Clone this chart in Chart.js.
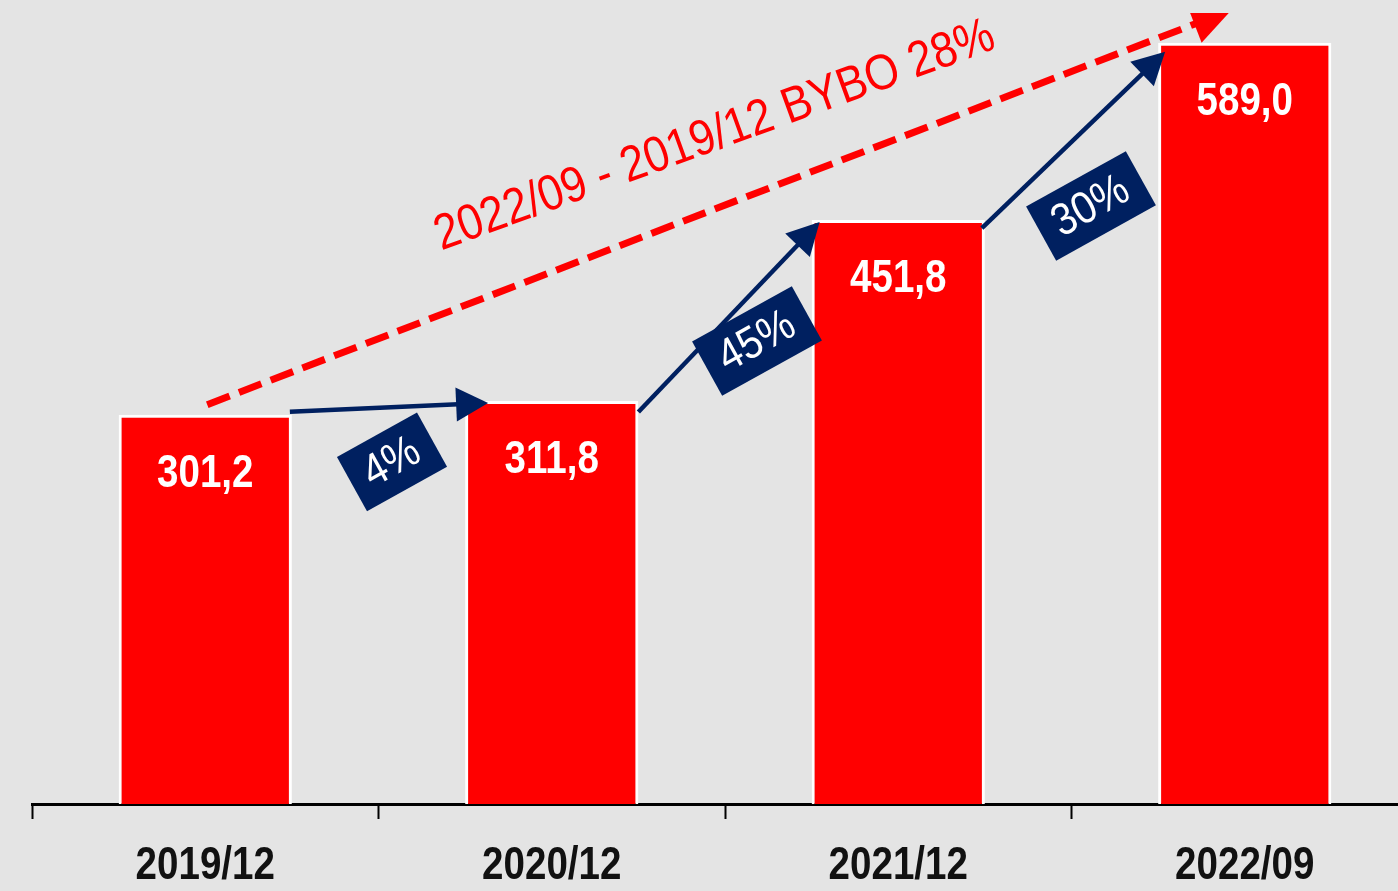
<!DOCTYPE html>
<html>
<head>
<meta charset="utf-8">
<script src="https://cdn.jsdelivr.net/npm/chart.js@4/dist/chart.umd.min.js"></script>
<style>
  html, body { margin: 0; padding: 0; background: #e4e4e4; overflow: hidden; width: 1398px; height: 891px; }
  #wrap { position: absolute; left: 0; top: 0; width: 1418px; height: 891px; }
</style>
</head>
<body>
<div id="wrap"><canvas id="c" width="1418" height="891"></canvas></div>
<script>
// Periods and totals
const periods = ['2019/12', '2020/12', '2021/12', '2022/09'];
const values = [301.2, 311.8, 451.8, 589.0];
const valueLabels = ['301,2', '311,8', '451,8', '589,0'];
// Period-over-period growth and overall growth captions
const growthLabels = ['4%', '45%', '30%'];
const overallLabel = '2022/09 - 2019/12 BYBO 28%';
const yMin = 0;
const yMax = 612;

const RED = '#ff0000';
const NAVY = '#002060';
const SANS = "'Liberation Sans', Arial, sans-serif";
const NARROW_X = 0.82; // horizontal squeeze giving a narrow face

// text drawn with a horizontal squeeze (narrow letterforms)
function narrowText(ctx, text, x, y, font, color, sx, angle, baseline) {
  ctx.save();
  ctx.translate(x, y);
  if (angle) ctx.rotate(angle);
  ctx.scale(sx, 1);
  ctx.font = font;
  ctx.fillStyle = color;
  ctx.textAlign = 'center';
  ctx.textBaseline = baseline || 'alphabetic';
  ctx.fillText(text, 0, 0);
  ctx.restore();
}

function drawArrow(ctx, x1, y1, x2, y2, color, lw, headL, headW, dash) {
  const a = Math.atan2(y2 - y1, x2 - x1);
  const c = Math.cos(a), s = Math.sin(a);
  const bx = x2 - headL * c, by = y2 - headL * s;
  ctx.save();
  ctx.strokeStyle = color;
  ctx.lineWidth = lw;
  ctx.lineCap = 'butt';
  ctx.setLineDash(dash || []);
  ctx.beginPath();
  ctx.moveTo(x1, y1);
  ctx.lineTo(bx + c * 2, by + s * 2);
  ctx.stroke();
  ctx.setLineDash([]);
  ctx.fillStyle = color;
  ctx.beginPath();
  ctx.moveTo(x2, y2);
  ctx.lineTo(bx + headW * s, by - headW * c);
  ctx.lineTo(bx - headW * s, by + headW * c);
  ctx.closePath();
  ctx.fill();
  ctx.restore();
}

// Category labels under the axis, placed at the x scale's tick positions
const categoryLabels = {
  id: 'categoryLabels',
  afterDraw(chart) {
    const ctx = chart.ctx;
    const xs = chart.scales.x;
    periods.forEach((p, i) => {
      narrowText(ctx, p, xs.getPixelForValue(i), xs.top + 75,
        `bold 47px ${SANS}`, '#111111', NARROW_X);
    });
  }
};

// Growth arrows between neighbouring bars, growth boxes and the overall trend arrow
const annotations = {
  id: 'annotations',
  afterDatasetsDraw(chart) {
    const ctx = chart.ctx;
    const bars = chart.getDatasetMeta(0).data;
    const area = chart.chartArea;

    // value labels inside the bars
    bars.forEach((b, i) => narrowText(ctx, valueLabels[i], b.x, b.y + 72,
      `bold 47px ${SANS}`, '#ffffff', NARROW_X));

    // overall trend: dashed red arrow, clipped to the plot area
    const b0 = bars[0], bN = bars[bars.length - 1];
    const sx = b0.x + 2, sy = b0.y - 10;
    const ex = bN.x - 13, ey = bN.y - 33;
    ctx.save();
    ctx.beginPath();
    ctx.rect(area.left, area.top, area.right - area.left, area.bottom - area.top);
    ctx.clip();
    drawArrow(ctx, sx, sy, ex, ey, RED, 7, 40, 20, [24, 10]);
    ctx.restore();

    narrowText(ctx, overallLabel, (sx + ex) / 2, (sy + ey) / 2 - 58,
      `50px ${SANS}`, RED, 0.88, -20 * Math.PI / 180);

    // step arrows and their growth boxes
    const ends = [
      { s: [-2, -3], e: [23, 2], box: [3, 54.5] },
      { s: [0, 11], e: [8, 2], box: [28, 24] },
      { s: [-3, 8], e: [7, 9], box: [17.5, 66] }
    ];
    for (let i = 0; i < bars.length - 1; i++) {
      const a = bars[i], b = bars[i + 1];
      const o = ends[i];
      const x1 = a.x + a.width / 2 + o.s[0], y1 = a.y + o.s[1];
      const x2 = b.x - b.width / 2 + o.e[0], y2 = b.y + o.e[1];
      drawArrow(ctx, x1, y1, x2, y2, NAVY, 4.5, 32, 17);

      const cx = (x1 + x2) / 2 + o.box[0], cy = (y1 + y2) / 2 + o.box[1];
      const ang = -29 * Math.PI / 180;
      ctx.save();
      ctx.font = `45px ${SANS}`;
      const w = ctx.measureText(growthLabels[i]).width * 0.9 + 33;
      const h = 62;
      ctx.translate(cx, cy);
      ctx.rotate(ang);
      ctx.fillStyle = NAVY;
      ctx.fillRect(-w / 2, -h / 2, w, h);
      ctx.restore();
      narrowText(ctx, growthLabels[i], cx, cy + 1, `45px ${SANS}`, '#ffffff',
        0.9, ang, 'middle');
    }
  }
};

new Chart(document.getElementById('c'), {
  type: 'bar',
  data: {
    labels: periods,
    datasets: [{
      data: values,
      backgroundColor: RED,
      borderColor: '#ffffff',
      borderWidth: 3,
      borderSkipped: 'start',
      barPercentage: 0.5,
      categoryPercentage: 1.0
    }]
  },
  options: {
    responsive: false,
    animation: false,
    devicePixelRatio: 1,
    layout: { padding: { left: 32, top: 13, right: 0, bottom: 0 } },
    plugins: { legend: { display: false }, tooltip: { enabled: false } },
    scales: {
      x: {
        z: 1,
        afterFit(scale) { scale.height = 87; },
        border: { display: true, color: '#000000', width: 3 },
        grid: {
          offset: true,
          drawOnChartArea: false,
          drawTicks: true,
          tickLength: 15,
          tickColor: '#000000',
          tickWidth: 2
        },
        ticks: { display: false }
      },
      y: { display: false, min: yMin, max: yMax }
    }
  },
  plugins: [annotations, categoryLabels]
});
</script>
</body>
</html>
